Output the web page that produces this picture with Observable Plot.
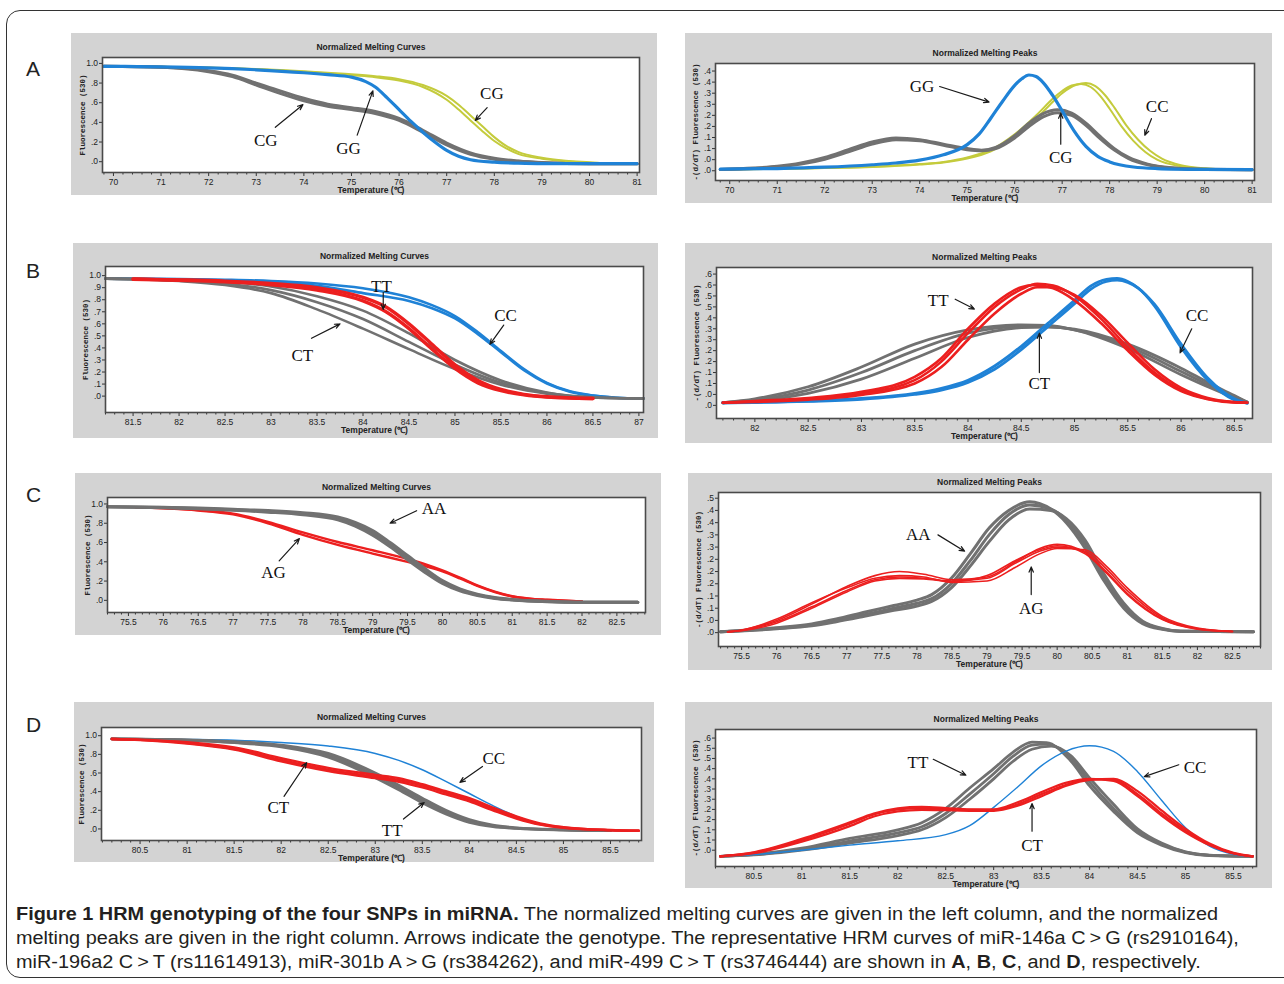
<!DOCTYPE html>
<html><head><meta charset="utf-8">
<script src="https://cdn.jsdelivr.net/npm/d3@7"></script>
<script src="https://cdn.jsdelivr.net/npm/@observablehq/plot@0.6"></script>
<style>
body{margin:0;background:#fff;}
#root{position:relative;width:1284px;height:984px;overflow:hidden;background:#fff;}
.frame{position:absolute;left:6px;top:10px;width:1300px;height:968px;border:1.5px solid #333;border-radius:14px;box-sizing:border-box;}
.box{position:absolute;background:#d3d3d3;}
.box svg{position:absolute;left:0;top:0;}
.plab{position:absolute;font:21px "Liberation Sans",Arial,sans-serif;color:#222;line-height:1;}
.cap{position:absolute;left:16px;font-family:"Liberation Sans Narrow","Liberation Sans",sans-serif;font-size:18px;line-height:22px;color:#231f20;white-space:nowrap;transform-origin:0 0;}
</style></head><body><div id="root"><div class="frame"></div></div>
<script>
// ---------- tick labels ----------
const xTicksA = [70,71,72,73,74,75,76,77,78,79,80,81];
const xTicksBL = [81.5,82,82.5,83,83.5,84,84.5,85,85.5,86,86.5,87];
const xTicksBR = [82,82.5,83,83.5,84,84.5,85,85.5,86,86.5];
const xTicksC = [75.5,76,76.5,77,77.5,78,78.5,79,79.5,80,80.5,81,81.5,82,82.5];
const xTicksD = [80.5,81,81.5,82,82.5,83,83.5,84,84.5,85,85.5];
const yTicksCurve = [0,0.2,0.4,0.6,0.8,1];
const yLabelsCurve = [".0",".2",".4",".6",".8","1.0"];
const yTicksBL = [0,0.1,0.2,0.3,0.4,0.5,0.6,0.7,0.8,0.9,1];
const yLabelsBL = [".0",".1",".2",".3",".4",".5",".6",".7",".8",".9","1.0"];
const yTicksAR = [0,0.05,0.1,0.15,0.2,0.25,0.3,0.35,0.4,0.45];
const yLabelsAR = [".0",".0",".1",".1",".2",".2",".3",".3",".4",".4"];
const yTicksBR = [0,0.05,0.1,0.15,0.2,0.25,0.3,0.35,0.4,0.45,0.5,0.55,0.6];
const yLabelsBR = [".0",".0",".1",".1",".2",".2",".3",".3",".4",".5",".5",".6",".6"];
const yTicksCR = [0,0.045,0.09,0.135,0.18,0.225,0.27,0.315,0.36,0.405,0.45,0.495];
const yLabelsCR = [".0",".0",".1",".1",".2",".2",".2",".3",".3",".4",".4",".5"];
const yTicksDR = [0,0.05,0.1,0.15,0.2,0.25,0.3,0.35,0.4,0.45,0.5,0.55];
const yLabelsDR = [".0",".1",".1",".2",".2",".3",".3",".4",".4",".5",".5",".6"];

// ---------- A: miR-146a ----------
const AL_yellow1 = [[69.8,0.97],[71,0.965],[72,0.955],[73,0.94],[74,0.915],[74.5,0.9],[75,0.88],[75.5,0.86],[76,0.825],[76.5,0.76],[77,0.63],[77.25,0.53],[77.5,0.42],[77.75,0.31],[78,0.21],[78.25,0.135],[78.5,0.08],[79,0.03],[79.5,0.005],[80,-0.01],[80.5,-0.02],[81,-0.02]];
const AL_yellow2 = [[69.8,0.97],[71,0.965],[72,0.957],[73,0.943],[74,0.92],[74.5,0.905],[75,0.89],[75.5,0.87],[76,0.84],[76.5,0.78],[77,0.67],[77.25,0.58],[77.5,0.47],[77.75,0.36],[78,0.25],[78.25,0.16],[78.5,0.1],[79,0.04],[79.5,0.01],[80,-0.005],[80.5,-0.02],[81,-0.02]];
const AL_gray1 = [[69.8,0.97],[71,0.962],[71.5,0.95],[72,0.925],[72.5,0.88],[73,0.8],[73.5,0.72],[74,0.645],[74.5,0.585],[75,0.55],[75.5,0.51],[76,0.44],[76.5,0.32],[77,0.19],[77.5,0.09],[78,0.035],[78.5,0.008],[79,-0.008],[80,-0.02],[81,-0.02]];
const AL_gray2 = [[69.8,0.97],[71,0.96],[71.5,0.945],[72,0.915],[72.5,0.865],[73,0.78],[73.5,0.695],[74,0.62],[74.5,0.565],[75,0.53],[75.5,0.49],[76,0.42],[76.5,0.3],[77,0.17],[77.5,0.075],[78,0.025],[78.5,0.004],[79,-0.01],[80,-0.02],[81,-0.02]];
const AL_blue = [[69.8,0.97],[70.5,0.968],[71,0.965],[72,0.955],[73,0.935],[74,0.905],[74.5,0.885],[75,0.86],[75.3,0.815],[75.5,0.76],[75.75,0.65],[76,0.53],[76.25,0.41],[76.5,0.3],[76.75,0.2],[77,0.115],[77.25,0.055],[77.5,0.02],[78,-0.005],[78.5,-0.015],[79,-0.02],[81,-0.02]];
const AL_ann = [
  {t:"CG", x:73.2, y:0.22, x1:73.4, y1:0.35, x2:73.98, y2:0.58},
  {t:"GG", x:74.94, y:0.13, x1:75.12, y1:0.27, x2:75.45, y2:0.72},
  {t:"CG", x:77.95, y:0.69, x1:77.85, y1:0.55, x2:77.6, y2:0.42}
];

const AR_yellow1 = [[69.8,0.006],[71,0.008],[72,0.012],[73,0.018],[74,0.03],[74.5,0.04],[75,0.06],[75.5,0.095],[76,0.165],[76.5,0.26],[76.8,0.325],[77,0.36],[77.2,0.385],[77.4,0.392],[77.6,0.378],[77.8,0.338],[78,0.28],[78.25,0.2],[78.5,0.135],[78.75,0.085],[79,0.05],[79.5,0.02],[80,0.01],[80.5,0.006],[81,0.005]];
const AR_yellow2 = [[69.8,0.006],[71,0.008],[72,0.012],[73,0.017],[74,0.028],[74.5,0.037],[75,0.055],[75.5,0.088],[76,0.15],[76.5,0.245],[76.8,0.31],[77,0.35],[77.3,0.388],[77.5,0.396],[77.7,0.382],[77.9,0.342],[78.1,0.285],[78.35,0.205],[78.6,0.14],[78.85,0.09],[79.1,0.055],[79.5,0.025],[80,0.011],[80.5,0.006],[81,0.005]];
const AR_gray1 = [[69.8,0.006],[70.5,0.012],[71,0.02],[71.5,0.035],[72,0.06],[72.5,0.095],[73,0.13],[73.5,0.148],[74,0.14],[74.5,0.12],[75,0.1],[75.3,0.093],[75.6,0.105],[76,0.158],[76.3,0.215],[76.6,0.258],[76.9,0.275],[77.2,0.26],[77.5,0.215],[77.8,0.155],[78.1,0.1],[78.4,0.06],[78.8,0.03],[79.3,0.014],[80,0.007],[81,0.005]];
const AR_gray2 = [[69.8,0.006],[70.5,0.01],[71,0.017],[71.5,0.03],[72,0.052],[72.5,0.085],[73,0.12],[73.5,0.14],[74,0.135],[74.5,0.115],[75,0.095],[75.3,0.09],[75.6,0.1],[76,0.148],[76.3,0.2],[76.6,0.243],[76.9,0.262],[77.2,0.25],[77.5,0.205],[77.8,0.145],[78.1,0.093],[78.4,0.055],[78.8,0.027],[79.3,0.012],[80,0.006],[81,0.005]];
const AR_blue = [[69.8,0.007],[71,0.01],[72,0.016],[73,0.027],[73.5,0.035],[74,0.048],[74.5,0.072],[75,0.118],[75.25,0.165],[75.5,0.238],[75.75,0.315],[76,0.385],[76.15,0.415],[76.3,0.432],[76.45,0.425],[76.6,0.398],[76.8,0.34],[77,0.27],[77.25,0.18],[77.5,0.11],[77.75,0.065],[78,0.04],[78.5,0.017],[79,0.01],[80,0.006],[81,0.005]];
const AR_ann = [
  {t:"GG", x:74.05, y:0.38, x1:74.42, y1:0.38, x2:75.46, y2:0.31},
  {t:"CC", x:79.0, y:0.29, x1:78.88, y1:0.235, x2:78.74, y2:0.16},
  {t:"CG", x:76.97, y:0.06, x1:76.97, y1:0.12, x2:76.97, y2:0.26}
];

// ---------- B: miR-196a2 ----------
const BL_blue1 = [[81.2,0.975],[82,0.972],[82.5,0.966],[83,0.956],[83.5,0.935],[84,0.895],[84.5,0.82],[84.75,0.755],[85,0.665],[85.25,0.53],[85.5,0.375],[85.75,0.225],[86,0.11],[86.25,0.04],[86.5,0.005],[86.75,-0.013],[87.05,-0.02]];
const BL_blue2 = [[81.2,0.975],[82,0.97],[82.5,0.962],[83,0.948],[83.5,0.915],[84,0.855],[84.5,0.79],[84.75,0.73],[85,0.645],[85.25,0.515],[85.5,0.365],[85.75,0.215],[86,0.105],[86.25,0.037],[86.5,0.004],[86.75,-0.013],[87.05,-0.02]];
const BL_gray1 = [[81.2,0.975],[82,0.965],[82.5,0.95],[83,0.91],[83.5,0.83],[84,0.71],[84.5,0.52],[85,0.3],[85.5,0.13],[86,0.03],[86.5,-0.01],[87.05,-0.02]];
const BL_gray2 = [[81.2,0.975],[82,0.96],[82.5,0.935],[83,0.88],[83.5,0.78],[84,0.64],[84.5,0.45],[85,0.26],[85.5,0.11],[86,0.025],[86.5,-0.012],[87.05,-0.02]];
const BL_gray3 = [[81.2,0.975],[82,0.955],[82.5,0.922],[83,0.855],[83.5,0.72],[84,0.56],[84.5,0.39],[85,0.225],[85.5,0.095],[86,0.02],[86.5,-0.012],[87.05,-0.02]];
const BL_red1 = [[81.5,0.972],[82,0.965],[82.5,0.955],[83,0.935],[83.5,0.9],[84,0.82],[84.25,0.74],[84.5,0.6],[84.75,0.43],[85,0.26],[85.25,0.13],[85.5,0.055],[85.75,0.015],[86,-0.005],[86.5,-0.02]];
const BL_red2 = [[81.5,0.97],[82,0.962],[82.5,0.95],[83,0.925],[83.5,0.88],[84,0.79],[84.25,0.7],[84.5,0.56],[84.75,0.39],[85,0.23],[85.25,0.11],[85.5,0.045],[85.75,0.01],[86,-0.008],[86.5,-0.02]];
const BL_ann = [
  {t:"TT", x:84.2, y:0.91, x1:84.22, y1:0.86, x2:84.22, y2:0.72},
  {t:"CC", x:85.55, y:0.67, x1:85.53, y1:0.59, x2:85.38, y2:0.43},
  {t:"CT", x:83.34, y:0.34, x1:83.44, y1:0.48, x2:83.75, y2:0.6}
];

const BR_gray1 = [[81.7,0.012],[82,0.03],[82.5,0.085],[83,0.175],[83.5,0.28],[84,0.345],[84.5,0.368],[84.75,0.365],[85,0.345],[85.5,0.26],[86,0.14],[86.25,0.085],[86.5,0.035],[86.62,0.015]];
const BR_gray2 = [[81.7,0.012],[82,0.025],[82.5,0.07],[83,0.15],[83.5,0.25],[84,0.33],[84.5,0.36],[84.75,0.36],[85,0.345],[85.5,0.27],[86,0.155],[86.25,0.095],[86.5,0.04],[86.62,0.015]];
const BR_gray3 = [[81.7,0.012],[82,0.02],[82.5,0.055],[83,0.12],[83.5,0.215],[84,0.31],[84.5,0.355],[84.75,0.358],[85,0.348],[85.5,0.28],[86,0.17],[86.25,0.105],[86.5,0.045],[86.62,0.015]];
const BR_blue1 = [[81.7,0.012],[82,0.014],[82.5,0.02],[83,0.032],[83.5,0.055],[83.75,0.078],[84,0.115],[84.25,0.18],[84.5,0.27],[84.75,0.375],[85,0.48],[85.15,0.545],[85.3,0.576],[85.4,0.58],[85.5,0.566],[85.6,0.535],[85.75,0.455],[86,0.265],[86.25,0.115],[86.5,0.025],[86.62,0.01]];
const BR_blue2 = [[81.7,0.012],[82,0.013],[82.5,0.018],[83,0.028],[83.5,0.05],[83.75,0.07],[84,0.105],[84.25,0.165],[84.5,0.255],[84.75,0.36],[85,0.465],[85.15,0.53],[85.3,0.566],[85.4,0.572],[85.5,0.562],[85.6,0.535],[85.75,0.462],[86,0.28],[86.25,0.125],[86.5,0.03],[86.62,0.01]];
const BR_red1 = [[81.7,0.012],[82,0.018],[82.5,0.03],[83,0.055],[83.5,0.115],[83.75,0.2],[84,0.33],[84.25,0.45],[84.5,0.53],[84.65,0.556],[84.8,0.548],[85,0.5],[85.25,0.395],[85.5,0.265],[85.75,0.15],[86,0.07],[86.25,0.03],[86.5,0.014],[86.62,0.012]];
const BR_red2 = [[81.7,0.012],[82,0.016],[82.5,0.026],[83,0.048],[83.5,0.1],[83.75,0.175],[84,0.3],[84.25,0.42],[84.5,0.51],[84.65,0.54],[84.8,0.54],[85,0.505],[85.25,0.41],[85.5,0.285],[85.75,0.165],[86,0.08],[86.25,0.034],[86.5,0.015],[86.62,0.012]];
const BR_red3 = [[81.7,0.012],[82,0.02],[82.5,0.034],[83,0.062],[83.5,0.13],[83.75,0.215],[84,0.35],[84.25,0.465],[84.5,0.54],[84.62,0.55],[84.8,0.535],[85,0.48],[85.25,0.375],[85.5,0.25],[85.75,0.14],[86,0.065],[86.25,0.028],[86.5,0.013],[86.62,0.012]];
const BR_ann = [
  {t:"TT", x:83.72, y:0.48, x1:83.88, y1:0.485, x2:84.06, y2:0.44},
  {t:"CC", x:86.15, y:0.41, x1:86.1, y1:0.35, x2:85.99, y2:0.24},
  {t:"CT", x:84.67, y:0.1, x1:84.67, y1:0.15, x2:84.67, y2:0.33}
];

// ---------- C: miR-301b ----------
const CL_gray1 = [[75.2,0.97],[76,0.965],[76.5,0.958],[77,0.945],[77.5,0.932],[78,0.91],[78.5,0.865],[78.75,0.81],[79,0.725],[79.25,0.6],[79.5,0.465],[79.75,0.33],[80,0.205],[80.25,0.12],[80.5,0.065],[80.75,0.03],[81,0.01],[81.5,-0.01],[82,-0.02],[82.8,-0.02]];
const CL_gray2 = [[75.2,0.97],[76,0.963],[76.5,0.954],[77,0.94],[77.5,0.925],[78,0.9],[78.5,0.85],[78.75,0.79],[79,0.7],[79.25,0.58],[79.5,0.445],[79.75,0.31],[80,0.19],[80.25,0.11],[80.5,0.057],[80.75,0.025],[81,0.007],[81.5,-0.012],[82,-0.02],[82.8,-0.02]];
const CL_gray3 = [[75.2,0.97],[76,0.96],[76.5,0.95],[77,0.935],[77.5,0.915],[78,0.888],[78.5,0.835],[78.75,0.77],[79,0.675],[79.25,0.555],[79.5,0.42],[79.75,0.29],[80,0.175],[80.25,0.098],[80.5,0.05],[80.75,0.02],[81,0.004],[81.5,-0.014],[82,-0.02],[82.8,-0.02]];
const CL_red1 = [[75.6,0.965],[76,0.957],[76.5,0.937],[77,0.9],[77.5,0.815],[78,0.705],[78.5,0.605],[79,0.52],[79.5,0.43],[79.75,0.375],[80,0.31],[80.25,0.235],[80.5,0.155],[80.75,0.09],[81,0.043],[81.25,0.018],[81.5,0.006],[82,-0.012]];
const CL_red2 = [[75.6,0.965],[76,0.954],[76.5,0.932],[77,0.892],[77.5,0.8],[78,0.68],[78.5,0.575],[79,0.485],[79.5,0.4],[79.75,0.355],[80,0.3],[80.25,0.228],[80.5,0.15],[80.75,0.086],[81,0.04],[81.25,0.016],[81.5,0.005],[82,-0.012]];
const CL_ann = [
  {t:"AA", x:79.88, y:0.95, x1:79.63, y1:0.93, x2:79.25, y2:0.8},
  {t:"AG", x:77.58, y:0.29, x1:77.66, y1:0.41, x2:77.95, y2:0.64}
];

const CR_red1 = [[75.3,0.003],[75.5,0.01],[76,0.045],[76.5,0.105],[77,0.17],[77.4,0.21],[77.75,0.225],[78.1,0.215],[78.5,0.195],[79,0.205],[79.4,0.26],[79.75,0.31],[80,0.325],[80.4,0.295],[80.7,0.225],[81,0.145],[81.5,0.05],[82,0.014],[82.5,0.004]];
const CR_red2 = [[75.3,0.003],[75.5,0.008],[76,0.04],[76.5,0.095],[77,0.155],[77.4,0.195],[77.75,0.205],[78.1,0.2],[78.5,0.19],[79,0.2],[79.4,0.255],[79.75,0.3],[80,0.315],[80.4,0.3],[80.7,0.235],[81,0.155],[81.5,0.055],[82,0.015],[82.5,0.004]];
const CR_red3 = [[75.3,0.003],[75.5,0.009],[76,0.05],[76.5,0.11],[77,0.165],[77.4,0.2],[77.75,0.21],[78.1,0.205],[78.5,0.185],[79,0.19],[79.4,0.24],[79.75,0.29],[80,0.31],[80.4,0.305],[80.7,0.245],[81,0.165],[81.5,0.06],[82,0.017],[82.5,0.004]];
const CR_red4 = [[75.3,0.003],[75.5,0.007],[76,0.035],[76.5,0.09],[77,0.15],[77.4,0.19],[77.75,0.2],[78.1,0.198],[78.5,0.188],[79,0.21],[79.4,0.265],[79.75,0.305],[80,0.32],[80.4,0.29],[80.7,0.22],[81,0.14],[81.5,0.048],[82,0.013],[82.5,0.004]];
const CR_gray1 = [[75.2,0.003],[76,0.018],[76.5,0.032],[76.85,0.05],[77.25,0.075],[77.67,0.1],[78,0.12],[78.21,0.14],[78.49,0.2],[78.76,0.29],[79.03,0.385],[79.31,0.45],[79.61,0.482],[79.91,0.455],[80.13,0.405],[80.4,0.31],[80.67,0.19],[80.95,0.09],[81.22,0.033],[81.5,0.012],[81.76,0.005],[82.8,0.003]];
const CR_gray2 = [[75.2,0.003],[76,0.016],[76.5,0.028],[76.85,0.044],[77.25,0.066],[77.67,0.09],[78,0.108],[78.21,0.125],[78.49,0.18],[78.76,0.265],[79.03,0.36],[79.31,0.435],[79.61,0.47],[79.91,0.455],[80.13,0.415],[80.4,0.325],[80.67,0.205],[80.95,0.1],[81.22,0.038],[81.5,0.014],[81.76,0.005],[82.8,0.003]];
const CR_gray3 = [[75.2,0.003],[76,0.014],[76.5,0.025],[76.85,0.04],[77.25,0.06],[77.67,0.082],[78,0.098],[78.21,0.115],[78.49,0.165],[78.76,0.245],[79.03,0.335],[79.31,0.415],[79.61,0.455],[79.91,0.45],[80.13,0.42],[80.4,0.34],[80.67,0.215],[80.95,0.108],[81.22,0.042],[81.5,0.015],[81.76,0.005],[82.8,0.003]];
const CR_ann = [
  {t:"AA", x:78.02, y:0.363, x1:78.3, y1:0.36, x2:78.68, y2:0.3},
  {t:"AG", x:79.63, y:0.089, x1:79.63, y1:0.14, x2:79.63, y2:0.242}
];

// ---------- D: miR-499 ----------
const DL_gray1 = [[80.2,0.965],[81,0.955],[81.5,0.935],[82,0.9],[82.5,0.81],[83,0.6],[83.25,0.47],[83.5,0.33],[83.75,0.2],[84,0.1],[84.25,0.04],[84.5,0.012],[85,-0.008],[85.5,-0.018]];
const DL_gray2 = [[80.2,0.965],[81,0.953],[81.5,0.93],[82,0.89],[82.5,0.79],[83,0.575],[83.25,0.445],[83.5,0.305],[83.75,0.18],[84,0.085],[84.25,0.032],[84.5,0.008],[85,-0.01],[85.5,-0.018]];
const DL_gray3 = [[80.2,0.965],[81,0.95],[81.5,0.925],[82,0.88],[82.5,0.77],[83,0.55],[83.25,0.42],[83.5,0.28],[83.75,0.16],[84,0.07],[84.25,0.025],[84.5,0.005],[85,-0.012],[85.5,-0.018]];
const DL_red1 = [[80.2,0.965],[80.5,0.958],[81,0.93],[81.5,0.875],[82,0.76],[82.5,0.655],[83,0.58],[83.25,0.545],[83.5,0.48],[83.75,0.405],[84,0.33],[84.25,0.23],[84.5,0.135],[84.75,0.06],[85,0.02],[85.5,-0.012],[85.8,-0.02]];
const DL_red2 = [[80.2,0.965],[80.5,0.955],[81,0.922],[81.5,0.86],[82,0.74],[82.5,0.635],[83,0.56],[83.25,0.525],[83.5,0.465],[83.75,0.39],[84,0.315],[84.25,0.215],[84.5,0.122],[84.75,0.052],[85,0.015],[85.5,-0.013],[85.8,-0.02]];
const DL_red3 = [[80.2,0.965],[80.5,0.953],[81,0.915],[81.5,0.85],[82,0.725],[82.5,0.62],[83,0.545],[83.25,0.505],[83.5,0.445],[83.75,0.37],[84,0.295],[84.25,0.2],[84.5,0.112],[84.75,0.047],[85,0.012],[85.5,-0.014],[85.8,-0.02]];
const DL_blue = [[80.2,0.965],[81,0.96],[81.5,0.952],[82,0.928],[82.5,0.89],[83,0.81],[83.25,0.735],[83.5,0.635],[83.75,0.51],[84,0.38],[84.25,0.25],[84.5,0.135],[84.75,0.055],[85,0.012],[85.25,-0.008],[85.5,-0.018],[85.8,-0.02]];
const DL_ann = [
  {t:"CC", x:84.26, y:0.76, x1:84.14, y1:0.67, x2:83.9, y2:0.5},
  {t:"CT", x:81.97, y:0.23, x1:82.03, y1:0.35, x2:82.27, y2:0.71},
  {t:"TT", x:83.18, y:-0.02, x1:83.3, y1:0.106, x2:83.52, y2:0.283}
];

const DR_gray1 = [[80.15,-0.03],[80.5,-0.02],[81,0.01],[81.5,0.058],[82,0.1],[82.25,0.135],[82.5,0.205],[82.75,0.305],[83,0.4],[83.2,0.48],[83.4,0.53],[83.55,0.528],[83.8,0.44],[84,0.315],[84.25,0.19],[84.5,0.085],[84.75,0.025],[85,-0.012],[85.25,-0.026],[85.7,-0.03]];
const DR_gray2 = [[80.15,-0.03],[80.5,-0.022],[81,0.005],[81.5,0.045],[82,0.085],[82.25,0.115],[82.5,0.18],[82.75,0.275],[83,0.375],[83.2,0.46],[83.4,0.515],[83.55,0.52],[83.8,0.455],[84,0.335],[84.25,0.205],[84.5,0.095],[84.75,0.03],[85,-0.01],[85.25,-0.025],[85.7,-0.03]];
const DR_gray3 = [[80.15,-0.03],[80.5,-0.023],[81,0.0],[81.5,0.035],[82,0.072],[82.25,0.1],[82.5,0.16],[82.75,0.25],[83,0.35],[83.2,0.435],[83.4,0.495],[83.6,0.51],[83.8,0.465],[84,0.355],[84.25,0.225],[84.5,0.105],[84.75,0.035],[85,-0.008],[85.25,-0.024],[85.7,-0.03]];
const DR_blue = [[80.15,-0.03],[80.5,-0.022],[81,0.0],[81.5,0.025],[82,0.046],[82.5,0.076],[82.75,0.12],[83,0.21],[83.25,0.31],[83.5,0.415],[83.75,0.485],[84,0.512],[84.25,0.485],[84.5,0.385],[84.75,0.245],[85,0.11],[85.25,0.02],[85.5,-0.02],[85.7,-0.03]];
const DR_red1 = [[80.15,-0.03],[80.5,-0.012],[81,0.05],[81.5,0.13],[81.75,0.175],[82,0.2],[82.25,0.208],[82.5,0.203],[82.75,0.198],[83,0.197],[83.25,0.225],[83.5,0.275],[83.75,0.32],[84,0.348],[84.25,0.345],[84.5,0.275],[84.75,0.18],[85,0.095],[85.25,0.028],[85.5,-0.015],[85.7,-0.03]];
const DR_red2 = [[80.15,-0.03],[80.5,-0.015],[81,0.042],[81.5,0.118],[81.75,0.165],[82,0.19],[82.25,0.198],[82.5,0.196],[82.75,0.193],[83,0.193],[83.25,0.218],[83.5,0.265],[83.75,0.315],[84,0.345],[84.25,0.35],[84.5,0.29],[84.75,0.195],[85,0.105],[85.25,0.033],[85.5,-0.013],[85.7,-0.03]];
const DR_red3 = [[80.15,-0.03],[80.5,-0.01],[81,0.056],[81.5,0.137],[81.75,0.18],[82,0.205],[82.25,0.212],[82.5,0.207],[82.75,0.2],[83,0.2],[83.25,0.235],[83.5,0.285],[83.75,0.33],[84,0.35],[84.25,0.34],[84.5,0.265],[84.75,0.17],[85,0.088],[85.25,0.025],[85.5,-0.016],[85.7,-0.03]];
const DR_ann = [
  {t:"TT", x:82.21, y:0.432, x1:82.37, y1:0.446, x2:82.71, y2:0.368},
  {t:"CC", x:85.1, y:0.407, x1:84.93, y1:0.419, x2:84.57, y2:0.361},
  {t:"CT", x:83.4, y:0.025, x1:83.4, y1:0.093, x2:83.4, y2:0.229}
];

// ---------- styling ----------
const COL = {blue:"#1f82d6", yellow:"#c4cb3c", gray:"#717171", red:"#ec1f1f"};
const CURVES = "Normalized Melting Curves", PEAKS = "Normalized Melting Peaks";
const YL_CURVE = "Fluorescence (530)", YL_PEAK = "-(d/dT) Fluorescence (530)";

const panels = [
  {box:[71,33,586,162], frame:[102,57,639,172], xd:[69.77,81.05], yd:[-0.11,1.06], xt:xTicksA, minor:0.2, yt:yTicksCurve, yl:yLabelsCurve, title:CURVES, ylab:YL_CURVE,
   series:[[AL_yellow1,"yellow",2],[AL_yellow2,"yellow",2],[AL_gray1,"gray",3],[AL_gray2,"gray",3],[AL_blue,"blue",3.2]], ann:AL_ann},
  {box:[685,33,587,170], frame:[715,63,1254,180], xd:[69.7,81.05], yd:[-0.044,0.484], xt:xTicksA, minor:0.2, yt:yTicksAR, yl:yLabelsAR, title:PEAKS, ylab:YL_PEAK,
   series:[[AR_yellow1,"yellow",2],[AR_yellow2,"yellow",2],[AR_gray1,"gray",3],[AR_gray2,"gray",3],[AR_blue,"blue",3.2]], ann:AR_ann},
  {box:[73,243,585,195], frame:[105,266,643,412], xd:[81.2,87.05], yd:[-0.136,1.076], xt:xTicksBL, minor:0.1, yt:yTicksBL, yl:yLabelsBL, title:CURVES, ylab:YL_CURVE,
   series:[[BL_blue1,"blue",2.6],[BL_blue2,"blue",2.6],[BL_gray1,"gray",2.6],[BL_gray2,"gray",2.6],[BL_gray3,"gray",2.6],[BL_red1,"red",3.4],[BL_red2,"red",3.4]], ann:BL_ann},
  {box:[685,243,587,200], frame:[716,267,1252,418], xd:[81.64,86.67], yd:[-0.06,0.63], xt:xTicksBR, minor:0.1, yt:yTicksBR, yl:yLabelsBR, title:PEAKS, ylab:YL_PEAK,
   series:[[BR_gray1,"gray",2.8],[BR_gray2,"gray",2.8],[BR_gray3,"gray",2.8],[BR_blue1,"blue",2.8],[BR_blue2,"blue",2.8],[BR_red1,"red",2.6],[BR_red2,"red",2.6],[BR_red3,"red",2.6]], ann:BR_ann},
  {box:[75,473,586,162], frame:[107,497,645,612], xd:[75.2,82.91], yd:[-0.126,1.067], xt:xTicksC, minor:0.1, yt:yTicksCurve, yl:yLabelsCurve, title:CURVES, ylab:YL_CURVE,
   series:[[CL_red1,"red",2.4],[CL_red2,"red",2.4],[CL_gray1,"gray",3],[CL_gray2,"gray",3],[CL_gray3,"gray",3]], ann:CL_ann},
  {box:[688,473,584,197], frame:[718,492,1260,646], xd:[75.17,82.9], yd:[-0.051,0.516], xt:xTicksC, minor:0.1, yt:yTicksCR, yl:yLabelsCR, title:PEAKS, ylab:YL_PEAK,
   series:[[CR_gray1,"gray",3],[CR_gray2,"gray",3],[CR_gray3,"gray",3],[CR_red1,"red",1.6],[CR_red2,"red",1.6],[CR_red3,"red",1.6],[CR_red4,"red",1.6]], ann:CR_ann},
  {box:[74,702,580,160], frame:[101,727,641,840], xd:[80.09,85.83], yd:[-0.124,1.088], xt:xTicksD, minor:0.1, yt:yTicksCurve, yl:yLabelsCurve, title:CURVES, ylab:YL_CURVE,
   series:[[DL_blue,"blue",1.5],[DL_gray1,"gray",2.8],[DL_gray2,"gray",2.8],[DL_gray3,"gray",2.8],[DL_red1,"red",2.4],[DL_red2,"red",2.4],[DL_red3,"red",2.4]], ann:DL_ann},
  {box:[685,702,587,186], frame:[715,729,1256,866], xd:[80.1,85.74], yd:[-0.08,0.592], xt:xTicksD, minor:0.1, yt:yTicksDR, yl:yLabelsDR, title:PEAKS, ylab:YL_PEAK,
   series:[[DR_gray1,"gray",2.8],[DR_gray2,"gray",2.8],[DR_gray3,"gray",2.8],[DR_blue,"blue",1.4],[DR_red1,"red",2.2],[DR_red2,"red",2.2],[DR_red3,"red",2.2]], ann:DR_ann}
];
const panelLetters = [["A",26,58],["B",26,260],["C",26,484],["D",26,714]];

const root = document.getElementById("root");
const SANS = "Liberation Sans, Arial, sans-serif";

for (const p of panels) {
  const [bx, by, bw, bh] = p.box;
  const [fl, ft, fr, fb] = p.frame;
  const mL = fl - bx, mT = ft - by, mR = bx + bw - fr, mB = by + bh - fb;
  const yMap = new Map(p.yt.map((v, i) => [v, p.yl[i]]));
  const minor = d3.range(Math.ceil(p.xd[0] / p.minor), Math.floor(p.xd[1] / p.minor) + 1)
    .map(k => +(k * p.minor).toFixed(2)).filter(v => !p.xt.includes(v));
  const marks = [
    Plot.frame({fill: "white", stroke: "none"}),
    Plot.axisX(minor, {tickSize: 2.5, stroke: "#333", tickFormat: () => "", label: null}),
    Plot.axisX(p.xt, {tickSize: 4, tickPadding: 2, stroke: "#333", fill: "#222", fontSize: 8.5, fontFamily: SANS, tickFormat: d => String(d), label: null}),
    Plot.axisY(p.yt, {tickSize: 3, tickPadding: 1.5, stroke: "#333", fill: "#222", fontSize: 8.5, fontFamily: SANS, tickFormat: d => yMap.get(d), label: null}),
    ...p.series.map(([pts, c, w]) => Plot.line(pts, {x: d => d[0], y: d => d[1], stroke: COL[c], strokeWidth: w, curve: "monotone-x"})),
    Plot.frame({stroke: "#4a4a4a", strokeWidth: 1.6}),
    Plot.arrow(p.ann, {x1: "x1", y1: "y1", x2: "x2", y2: "y2", stroke: "#1a1a1a", strokeWidth: 1.2, headLength: 7, headAngle: 45}),
    Plot.text(p.ann, {x: "x", y: "y", text: "t", fontFamily: "Liberation Serif, Times New Roman, serif", fontSize: 17, fill: "#111"}),
    Plot.text([p.title], {frameAnchor: "top", dy: -10, lineAnchor: "middle", textAnchor: "middle", fontFamily: SANS, fontWeight: "bold", fontSize: 8.5, fill: "#222", style: "letter-spacing:1.1px"}),
    Plot.text(["Temperature (℃)"], {frameAnchor: "bottom", dy: 18, lineAnchor: "middle", textAnchor: "middle", fontFamily: SANS, fontWeight: "bold", fontSize: 8.5, fill: "#222"}),
    Plot.text([p.ylab], {frameAnchor: "left", dx: -20, rotate: -90, lineAnchor: "middle", textAnchor: "middle", fontFamily: "Liberation Mono, monospace", fontWeight: "bold", fontSize: 7.5, fill: "#222"})
  ];
  const svg = Plot.plot({
    width: bw, height: bh,
    marginLeft: mL, marginRight: mR, marginTop: mT, marginBottom: mB,
    x: {domain: p.xd, label: null},
    y: {domain: p.yd, label: null},
    style: {background: "transparent", overflow: "visible", fontFamily: SANS},
    marks
  });
  const div = document.createElement("div");
  div.className = "box";
  Object.assign(div.style, {left: bx + "px", top: by + "px", width: bw + "px", height: bh + "px"});
  div.appendChild(svg);
  root.appendChild(div);
}
for (const [t, x, y] of panelLetters) {
  const d = document.createElement("div");
  d.className = "plab"; d.textContent = t;
  Object.assign(d.style, {left: x + "px", top: y + "px"});
  root.appendChild(d);
}
// caption
const capLines = [
  ["<b>Figure 1 HRM genotyping of the four SNPs in miRNA.</b> The normalized melting curves are given in the left column, and the normalized", 903],
  ["melting peaks are given in the right column. Arrows indicate the genotype. The representative HRM curves of miR-146a C&thinsp;&gt;&thinsp;G (rs2910164),", 927],
  ["miR-196a2 C&thinsp;&gt;&thinsp;T (rs11614913), miR-301b A&thinsp;&gt;&thinsp;G (rs384262), and miR-499 C&thinsp;&gt;&thinsp;T (rs3746444) are shown in <b>A</b>, <b>B</b>, <b>C</b>, and <b>D</b>, respectively.", 951]
];
const capEls = capLines.map(([html, top]) => {
  const d = document.createElement("div");
  d.className = "cap"; d.innerHTML = html; d.style.top = top + "px";
  root.appendChild(d); return d;
});
const w1 = capEls[0].getBoundingClientRect().width;
const s = 1202 / w1;
capEls.forEach(d => d.style.transform = `scaleX(${s})`);
</script></body></html>
